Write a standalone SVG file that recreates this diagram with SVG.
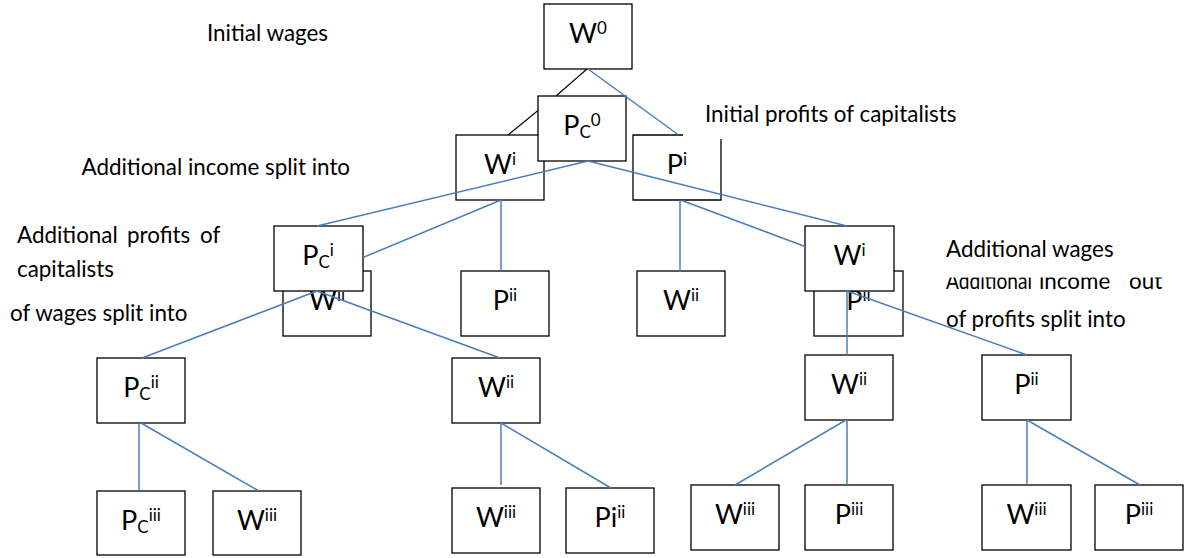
<svg xmlns="http://www.w3.org/2000/svg" width="1188" height="558" viewBox="0 0 1188 558">
<style>
  .box { fill: #fff; stroke: #000; stroke-width: 1.3; }
  .lbl { font-family: Lato, "Liberation Sans", sans-serif; font-size: 27px; fill: #000; text-anchor: middle; }
  .sup { font-size: 17px; }
  .sub { font-size: 17px; }
  .note { font-family: Lato, "Liberation Sans", sans-serif; font-size: 22.4px; fill: #000; }
  .con { fill: none; stroke: #4a7ebb; stroke-width: 1.5; }
  .conk { fill: none; stroke: #000; stroke-width: 1.1; }
</style>
<defs>
  <clipPath id="clipOut"><rect x="930" y="277.5" width="258" height="30"/></clipPath>
</defs>

<!-- annotations -->
<g id="notes">
  <text class="note" x="207" y="40.5">Initial wages</text>
  <text class="note" x="81.5" y="175">Additional income split into</text>
  <text class="note" y="243"><tspan x="17">Additional</tspan><tspan x="127">profits</tspan><tspan x="200">of</tspan></text>
  <text class="note" x="17" y="276.5">capitalists</text>
  <text class="note" x="10" y="320.5">of wages split into</text>
  <text class="note" x="705" y="121.5">Initial profits of capitalists</text>
  <text class="note" x="946" y="256.5">Additional wages</text>
  <text class="note" y="288.5" clip-path="url(#clipOut)"><tspan x="946" textLength="86" lengthAdjust="spacingAndGlyphs">Additional</tspan><tspan x="1039">income</tspan><tspan x="1129">out</tspan></text>
  <text class="note" x="946" y="326.5">of profits split into</text>
</g>

<!-- nodes -->
<g id="n-w0"><rect class="box" x="544" y="4" width="88" height="65"/><text class="lbl" x="588" y="43">W<tspan class="sup" dy="-9">0</tspan></text></g>
<g id="n-wi"><rect class="box" x="456" y="135" width="88" height="65"/><text class="lbl" x="500" y="174">W<tspan class="sup" dy="-9">i</tspan></text></g>
<g id="n-pi"><rect x="633" y="135" width="88" height="65" fill="#fff"/><path d="M683,135 H633 V200 H721 V139" fill="none" stroke="#000" stroke-width="1.3"/><text class="lbl" x="677" y="174">P<tspan class="sup" dy="-9">i</tspan></text></g>
<g id="n-pc0"><rect class="box" x="538" y="96" width="88" height="65"/><text class="lbl" x="582" y="135">P<tspan class="sub" dy="3">C</tspan><tspan class="sup" dy="-12">0</tspan></text></g>

<g id="n-wii-a"><rect class="box" x="283" y="271" width="88" height="65"/><text class="lbl" x="327" y="310">W<tspan class="sup" dy="-9">ii</tspan></text></g>
<g id="n-pci"><rect class="box" x="274" y="226" width="89" height="65"/><text class="lbl" x="318" y="265">P<tspan class="sub" dy="3">C</tspan><tspan class="sup" dy="-12">i</tspan></text></g>
<g id="n-pii-a"><rect class="box" x="461" y="271" width="88" height="65"/><text class="lbl" x="505" y="310">P<tspan class="sup" dy="-9">ii</tspan></text></g>
<g id="n-wii-b"><rect class="box" x="637" y="271" width="88" height="65"/><text class="lbl" x="681" y="310">W<tspan class="sup" dy="-9">ii</tspan></text></g>
<g id="n-pii-b"><rect class="box" x="814" y="271" width="89" height="65"/><text class="lbl" x="858.5" y="310">P<tspan class="sup" dy="-9">ii</tspan></text></g>
<g id="n-wi-b"><rect class="box" x="805" y="226" width="89" height="65"/><text class="lbl" x="849.5" y="265">W<tspan class="sup" dy="-9">i</tspan></text></g>

<g id="n-pcii"><rect class="box" x="97" y="358" width="88" height="65"/><text class="lbl" x="141" y="397">P<tspan class="sub" dy="3">C</tspan><tspan class="sup" dy="-12">ii</tspan></text></g>
<g id="n-wii-c"><rect class="box" x="452" y="358" width="88" height="65"/><text class="lbl" x="496" y="397">W<tspan class="sup" dy="-9">ii</tspan></text></g>
<g id="n-wii-d"><rect class="box" x="805" y="355" width="88" height="65"/><text class="lbl" x="849" y="394">W<tspan class="sup" dy="-9">ii</tspan></text></g>
<g id="n-pii-c"><rect class="box" x="982" y="355" width="89" height="65"/><text class="lbl" x="1026.5" y="394">P<tspan class="sup" dy="-9">ii</tspan></text></g>

<g id="n-pciii"><rect class="box" x="97" y="491" width="88" height="64"/><text class="lbl" x="141" y="530">P<tspan class="sub" dy="3">C</tspan><tspan class="sup" dy="-12">iii</tspan></text></g>
<g id="n-wiii-a"><rect class="box" x="213" y="491" width="88" height="64"/><text class="lbl" x="257" y="530">W<tspan class="sup" dy="-9">iii</tspan></text></g>
<g id="n-wiii-b"><rect class="box" x="452" y="488" width="88" height="65"/><text class="lbl" x="496" y="527">W<tspan class="sup" dy="-9">iii</tspan></text></g>
<g id="n-pi-ii"><rect class="box" x="566" y="488" width="88" height="65"/><text class="lbl" x="610" y="527">Pi<tspan class="sup" dy="-9">ii</tspan></text></g>
<g id="n-wiii-c"><rect class="box" x="691" y="485" width="88" height="65"/><text class="lbl" x="735" y="524">W<tspan class="sup" dy="-9">iii</tspan></text></g>
<g id="n-piii-a"><rect class="box" x="805" y="485" width="88" height="65"/><text class="lbl" x="849" y="524">P<tspan class="sup" dy="-9">iii</tspan></text></g>
<g id="n-wiii-d"><rect class="box" x="982" y="485" width="89" height="65"/><text class="lbl" x="1026.5" y="524">W<tspan class="sup" dy="-9">iii</tspan></text></g>
<g id="n-piii-b"><rect class="box" x="1095" y="485" width="88" height="65"/><text class="lbl" x="1139" y="524">P<tspan class="sup" dy="-9">iii</tspan></text></g>

<!-- connectors -->
<g id="connectors">
  <path class="conk" d="M587,69 L556,96 M538,110.5 L508,135"/>
  <path class="con" d="M588,69 L678,134.5"/>
  <path class="con" d="M588,161 L317,226"/>
  <path class="con" d="M588,161 L847,226"/>
  <path class="con" d="M501,200 L363,257.5"/>
  <path class="con" d="M501,200 L501,271"/>
  <path class="con" d="M680,200 L680,271"/>
  <path class="con" d="M682,200.5 L805,246.5"/>
  <path class="con" d="M317,291 L142,358"/>
  <path class="con" d="M317,291 L500,358"/>
  <path class="con" d="M847,291 L847,355"/>
  <path class="con" d="M847,291 L1027,355"/>
  <path class="con" d="M139,423 L139,491"/>
  <path class="con" d="M141,423 L259,491"/>
  <path class="con" d="M501,423 L501,485"/>
  <path class="con" d="M501,423 L611,488"/>
  <path class="con" d="M846,420 L735,485"/>
  <path class="con" d="M847,420 L847,485"/>
  <path class="con" d="M1027,420 L1027,485"/>
  <path class="con" d="M1027,420 L1140,485"/>
</g>
</svg>
